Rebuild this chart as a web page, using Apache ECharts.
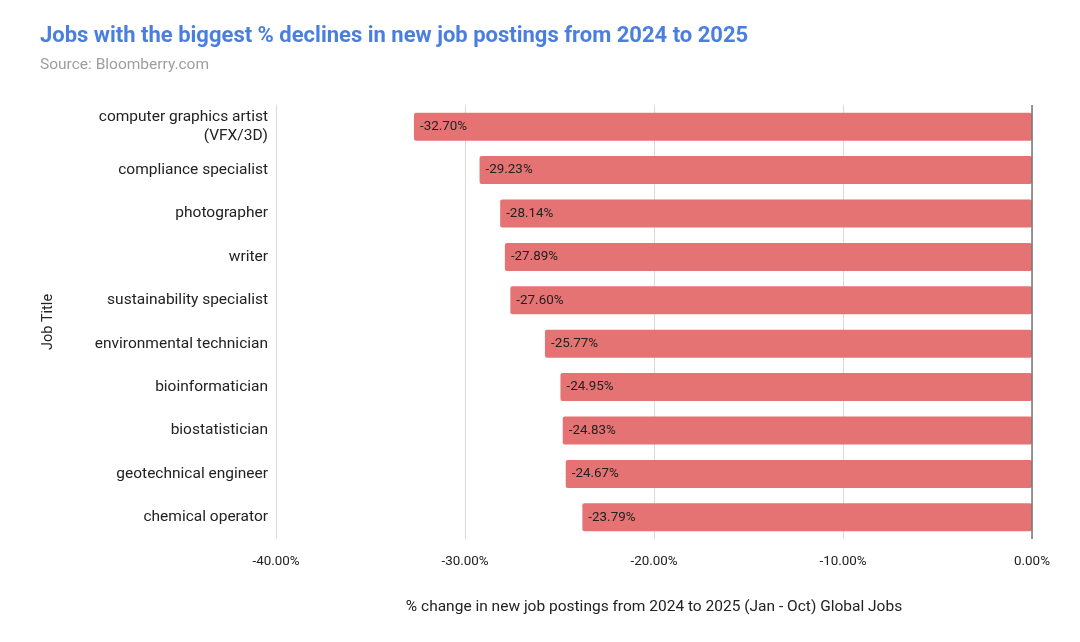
<!DOCTYPE html>
<html><head><meta charset="utf-8">
<script src="https://cdn.jsdelivr.net/npm/echarts@6/dist/echarts.min.js"></script>
<style>html,body{margin:0;padding:0;background:#fff}#c{width:1080px;height:642px}</style>
</head><body><div id="c"></div>
<script>
const categories = ["computer graphics artist\n(VFX/3D)","compliance specialist","photographer","writer","sustainability specialist","environmental technician","bioinformatician","biostatistician","geotechnical engineer","chemical operator"];
const values = [-32.70,-29.23,-28.14,-27.89,-27.60,-25.77,-24.95,-24.83,-24.67,-23.79];
const xTicks = {min:-40, max:0, interval:10};

const chart = echarts.init(document.getElementById('c'));
chart.setOption({
  backgroundColor:'#fff',
  textStyle:{fontFamily:'Roboto'},
  title:{
    text:'Jobs with the biggest % declines in new job postings from 2024 to 2025',
    subtext:'Source: Bloomberry.com',
    left:35, top:20,
    itemGap:10,
    textStyle:{fontFamily:'Roboto',fontSize:22,fontWeight:'bold',color:'#4a7fe0'},
    subtextStyle:{fontFamily:'Roboto',fontSize:15.5,color:'#9e9e9e'}
  },
  grid:{left:276,right:48,top:105,bottom:103,containLabel:false},
  xAxis:{
    type:'value', min:xTicks.min, max:xTicks.max, interval:xTicks.interval,
    name:'% change in new job postings from 2024 to 2025 (Jan - Oct) Global Jobs',
    nameLocation:'middle', nameGap:60,
    nameTextStyle:{fontFamily:'Roboto',fontSize:15.5,color:'#222'},
    axisLine:{show:false}, axisTick:{show:false},
    axisLabel:{fontFamily:'Roboto',fontSize:13.4,color:'#222',margin:16,formatter:v=>v.toFixed(2)+'%'},
    splitLine:{show:true,lineStyle:{color:'#d9d9d9',width:1}}
  },
  yAxis:{
    type:'category', data:categories, inverse:true,
    name:'Job Title', nameLocation:'middle', nameGap:220, nameRotate:90,
    nameTextStyle:{fontFamily:'Roboto',fontSize:14.5,color:'#222'},
    axisLine:{show:false,onZero:false}, axisTick:{show:false},
    axisLabel:{fontFamily:'Roboto',fontSize:15.5,color:'#222',margin:8,lineHeight:19,align:'right'}
  },
  series:[{
    type:'bar', data:values, barWidth:28,
    itemStyle:{color:'#e57373',borderRadius:2},
    label:{show:true,position:'insideLeft',distance:6,color:'#222',fontFamily:'Roboto',fontSize:13.4,formatter:p=>p.value.toFixed(2)+'%'},
    markLine:{silent:true,symbol:'none',label:{show:false},lineStyle:{color:'#757575',type:'solid',width:1.5},data:[{xAxis:0}]},
    animation:false
  }],
  animation:false
});
</script></body></html>
